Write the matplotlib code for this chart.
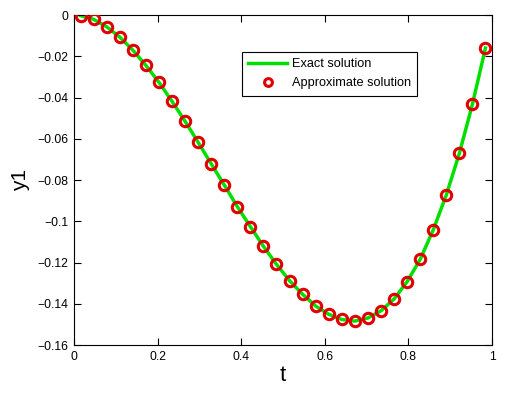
import numpy as np
import matplotlib.pyplot as plt

plt.rcParams['font.family'] = ['Liberation Sans', 'DejaVu Sans']

# 32 midpoints of [0, 1]
t = (np.arange(32) + 0.5) / 32
y1 = [-0.0003, -0.0021, -0.0057, -0.0107, -0.0170, -0.0244, -0.0326, -0.0418,
      -0.0515, -0.0617, -0.0721, -0.0824, -0.0929, -0.1026, -0.1121, -0.1209,
      -0.1288, -0.1354, -0.1411, -0.1451, -0.1476, -0.1484, -0.1469, -0.1434,
      -0.1377, -0.1293, -0.1185, -0.1042, -0.0873, -0.0671, -0.0433, -0.0160]

fig = plt.figure(figsize=(5.08, 3.93), dpi=100)
ax = fig.add_axes([0.1457, 0.1221, 0.8228, 0.8397])

ax.plot(t, y1, color='#00e000', lw=2.5, label='Exact solution', zorder=2)
ax.plot(t, y1, ls='none', marker='o', ms=7.5, mfc='none', mec='#e00000',
        mew=2.2, label='Approximate solution', zorder=3)

ax.set_xlim(0, 1)
ax.set_ylim(-0.16, 0)
ax.set_xticks(np.arange(0, 1.01, 0.2))
ax.set_xticklabels(['0', '0.2', '0.4', '0.6', '0.8', '1'])
ax.set_yticks(np.arange(-0.16, 0.001, 0.02))
ax.set_yticklabels(['\u22120.16', '\u22120.14', '\u22120.12', '\u22120.1', '\u22120.08',
                    '\u22120.06', '\u22120.04', '\u22120.02', '0'])
ax.tick_params(direction='in', top=True, right=True, length=5, labelsize=8.7, pad=4)
ax.set_xlabel('t', fontsize=16, labelpad=2)
ax.set_ylabel('y1', fontsize=15, labelpad=5)

leg = ax.legend(loc='upper left', bbox_to_anchor=(0.402, 0.888), borderaxespad=0,
                fontsize=9.2, frameon=True, fancybox=False, edgecolor='black',
                framealpha=1, borderpad=0.5, handlelength=3.0, handletextpad=0.4,
                labelspacing=0.55, markerscale=0.75)
leg.get_frame().set_linewidth(0.8)

plt.savefig('out.png', dpi=100)
